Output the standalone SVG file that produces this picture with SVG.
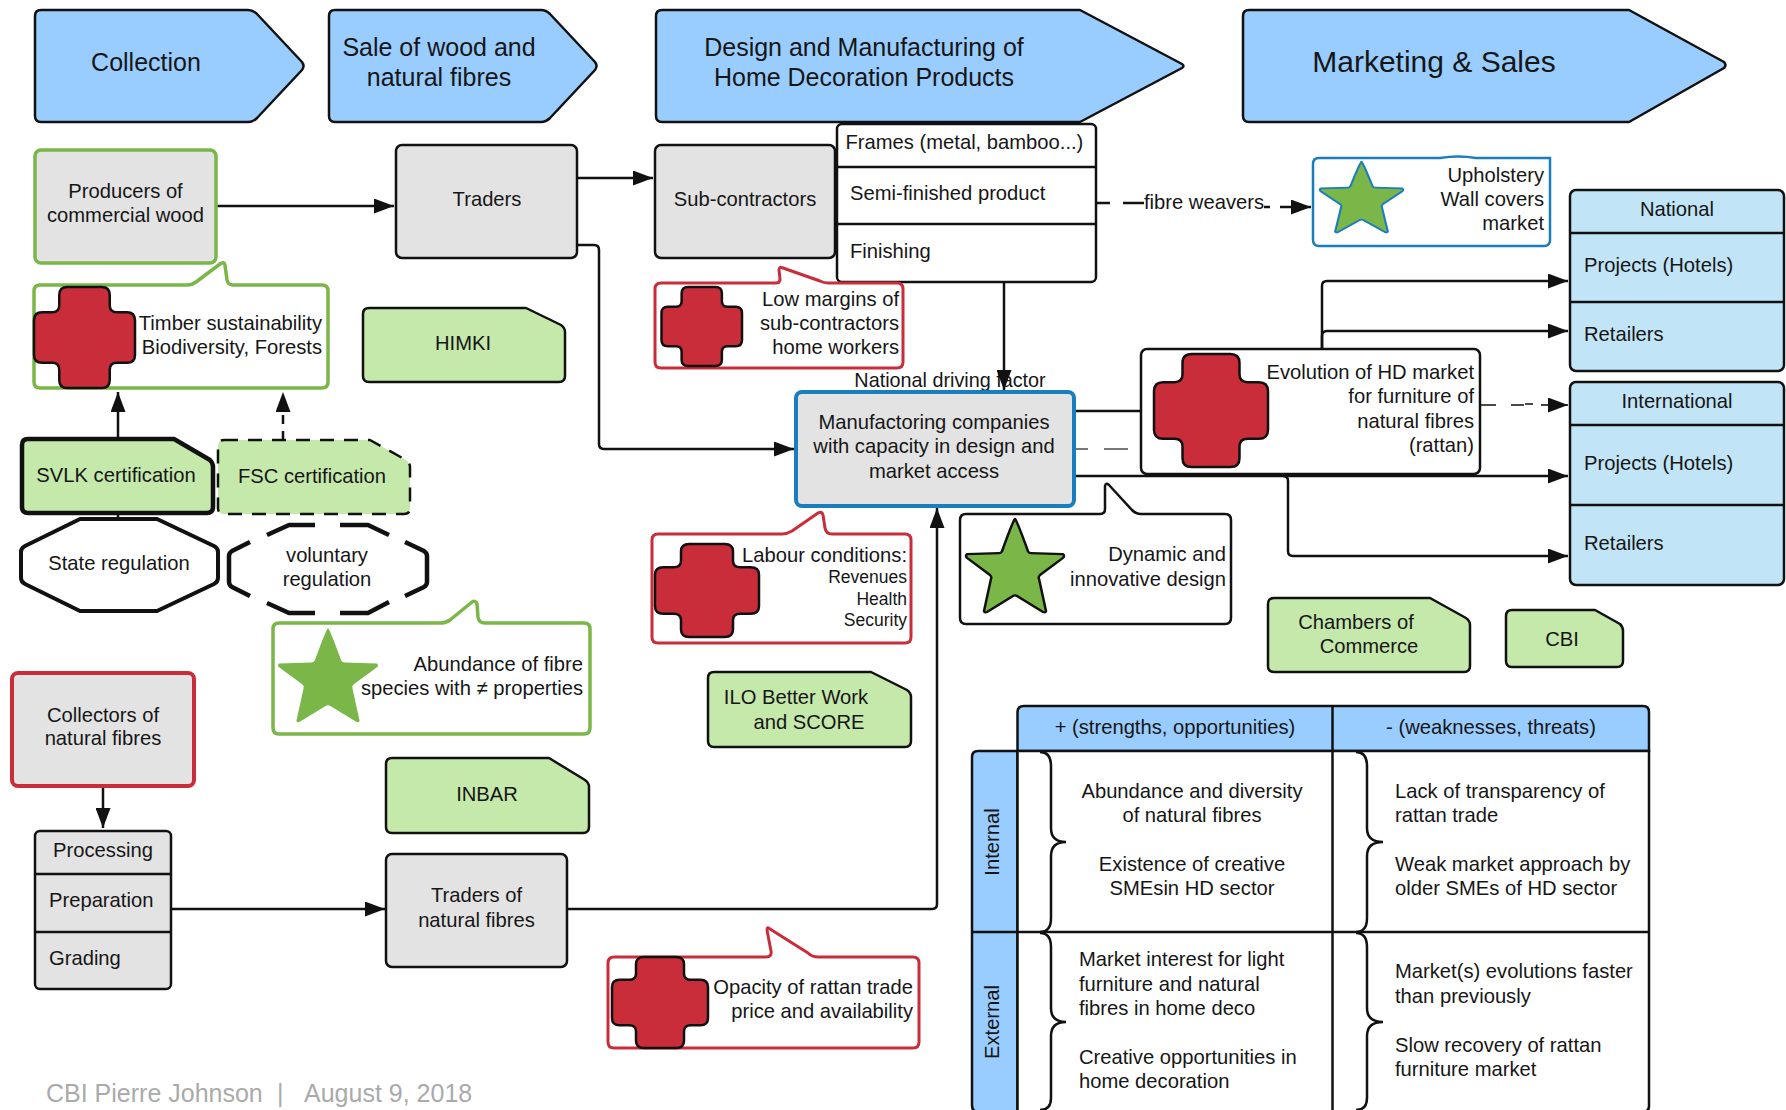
<svg xmlns="http://www.w3.org/2000/svg" width="1786" height="1110" viewBox="0 0 1786 1110">
<style>
text{font-family:"Liberation Sans",Arial,sans-serif;font-size:20.2px;fill:#161616}
.m{text-anchor:middle}.e{text-anchor:end}
.h{font-size:25px}
.s{font-size:17.5px}
.chev{fill:#99ccff;stroke:#111;stroke-width:2.5;stroke-linejoin:round}
.grey{fill:#e3e3e3;stroke:#111;stroke-width:2.5}
.note{fill:#c5e8ab;stroke:#111;stroke-width:2.5;stroke-linejoin:round}
.white{fill:#fff;stroke:#111;stroke-width:2.5;stroke-linejoin:round}
.gc{fill:#fff;stroke:#7ab648;stroke-width:3.5;stroke-linejoin:round}
.rc{fill:#fff;stroke:#c92d39;stroke-width:3;stroke-linejoin:round}
.pale{fill:#c1e4f7;stroke:#111;stroke-width:2.5}
.div{stroke:#111;stroke-width:2.5;fill:none}
.c{fill:none;stroke:#111;stroke-width:2.5;stroke-linejoin:round}
.a{marker-end:url(#ah)}
.cross{fill:#c92d39;stroke:#111;stroke-width:2.5;vector-effect:non-scaling-stroke;stroke-linejoin:round}
.star{fill:#7ab648;stroke-linejoin:round;vector-effect:non-scaling-stroke}
</style>
<defs>
<marker id="ah" markerUnits="userSpaceOnUse" markerWidth="21" markerHeight="15" refX="20" refY="7.5" orient="auto"><path d="M0,0L20,7.5L0,15Z" fill="#111"/></marker>
<path id="cross" class="cross" d="M33,0H67Q75,0 75,8V18Q75,25 82,25H92Q100,25 100,33V67Q100,75 92,75H82Q75,75 75,82V92Q75,100 67,100H33Q25,100 25,92V82Q25,75 18,75H8Q0,75 0,67V33Q0,25 8,25H18Q25,25 25,18V8Q25,0 33,0Z"/>
<path id="starp" d="M50,1Q52,3 63,35Q64,37 66,37L98,38Q100,40 98,42L75,60Q73,62 74,64L81,98Q80,100 78,99L52,82Q50,81 48,82L22,99Q20,100 19,98L26,64Q27,62 25,60L2,42Q0,40 2,38L34,37Q36,37 37,35Q48,3 50,1Z"/>
</defs>

<g id="nationaldriving"><text class="m" x="950" y="387" style="font-size:19.8px">National driving factor</text></g>

<g id="connectors">
<path class="c a" d="M216,206H394"/>
<path class="c a" d="M577,178H653"/>
<path class="c a" d="M577,245H594Q599,245 599,250V444Q599,449 604,449H794"/>
<path class="c a" d="M1004,282V390"/>
<path class="c" d="M1096,203H1110M1123,203H1144"/>
<path class="c" d="M1264,207H1270"/>
<path class="c a" d="M1280,207H1311"/>
<path class="c" d="M1074,411H1141"/>
<path d="M1076,449H1088M1104,449H1128" fill="none" stroke="#777" stroke-width="2"/>
<path class="c a" d="M1074,476H1568"/>
<path class="c a" d="M1283,476Q1288,476 1288,481V551Q1288,556 1293,556H1568"/>
<path class="c a" d="M1322,348V286Q1322,281 1327,281H1568"/>
<path class="c a" d="M1322,348V336Q1322,331 1327,331H1568"/>
<path class="c" style="stroke-width:1.6" d="M1480,405H1496M1511,405H1524M1525,404H1533"/>
<path class="c a" style="stroke-width:1.6" d="M1541,405H1568"/>
<path class="c a" d="M118,438V392"/>
<path class="c" d="M118,513V518"/>
<path class="c a" stroke-dasharray="9 7" d="M283,440V392"/>
<path class="c a" d="M103,785V828"/>
<path class="c a" d="M171,909H385"/>
<path class="c a" d="M567,909H932Q937,909 937,904V508"/>
</g>

<g id="collection"><path class="chev" d="M41,10H248Q253,10 257,14L302,62Q305,66 302,70L257,118Q253,122 248,122H41Q35,122 35,116V16Q35,10 41,10Z"/><text class="m h" x="146" y="71">Collection</text></g>
<g id="sale"><path class="chev" d="M335,10H541Q546,10 550,14L595,62Q598,66 595,70L550,118Q546,122 541,122H335Q329,122 329,116V16Q329,10 335,10Z"/><text class="m h" x="439" y="56">Sale of wood and</text><text class="m h" x="439" y="86">natural fibres</text></g>
<g id="design"><path class="chev" d="M662,10H1080L1182,64Q1185,66 1182,68L1080,122H662Q656,122 656,116V16Q656,10 662,10Z"/><text class="m h" x="864" y="56">Design and Manufacturing of</text><text class="m h" x="864" y="86">Home Decoration Products</text></g>
<g id="marketing"><path class="chev" d="M1249,10H1629L1724,62Q1727,65 1724,68L1629,122H1249Q1243,122 1243,116V16Q1243,10 1249,10Z"/><text class="m" style="font-size:30px" x="1434" y="72">Marketing &amp; Sales</text></g>

<g id="producers"><rect x="35" y="150" width="181" height="113" rx="6" fill="#e3e3e3" stroke="#7ab648" stroke-width="3.5"/><text class="m" x="125.500" y="198">Producers of</text><text class="m" x="125.500" y="222">commercial wood</text></g>
<g id="traders"><rect class="grey" x="396" y="145" width="181" height="113" rx="6"/><text class="m" x="487" y="206">Traders</text></g>
<g id="subcontractors"><rect class="grey" x="655" y="145" width="180" height="113" rx="6"/><text class="m" x="745" y="206">Sub-contractors</text></g>
<g id="steps"><rect class="white" x="837" y="124" width="259" height="158" rx="5"/><path class="div" d="M837,167H1096M837,224H1096"/><text x="845.500" y="149">Frames (metal, bamboo...)</text><text x="850" y="200">Semi-finished product</text><text x="850" y="258">Finishing</text></g>

<g id="timber"><path class="gc" d="M40,285H188Q192,285 196,282L220,264Q224,261 225,265L227,280Q228,285 233,285H322Q328,285 328,291V382Q328,388 322,388H40Q34,388 34,382V291Q34,285 40,285Z"/><use href="#cross" transform="translate(34,287) scale(1.01,1.01)"/><text class="e" x="322" y="330">Timber sustainability</text><text class="e" x="322" y="354">Biodiversity, Forests</text></g>
<g id="himki"><path class="note" d="M369,308H526L561,325Q565,328 565,332V376Q565,382 559,382H369Q363,382 363,376V314Q363,308 369,308Z"/><text class="m" x="463" y="350">HIMKI</text></g>
<g id="lowmargins"><path class="rc" d="M661,283H776Q780,283 780,279L779,270Q779,266 783,268L820,281Q824,283 828,283H897Q903,283 903,289V362Q903,368 897,368H661Q655,368 655,362V289Q655,283 661,283Z"/><use href="#cross" transform="translate(661.500,287) scale(.805,.79)"/><text class="e" x="899" y="306">Low margins of</text><text class="e" x="899" y="330">sub-contractors</text><text class="e" x="899" y="354">home workers</text></g>

<g id="upholstery"><path d="M1319,158H1440Q1458,155 1476,158H1550V240Q1550,246 1544,246H1319Q1313,246 1313,240V164Q1313,158 1319,158Z" fill="#fff" stroke="#1a7dbd" stroke-width="2.5"/><use href="#starp" class="star" stroke="#1a7dbd" stroke-width="2.500" transform="translate(1319,161) scale(.85,.72)"/><text class="e" x="1544" y="182">Upholstery</text><text class="e" x="1544" y="206">Wall covers</text><text class="e" x="1544" y="230">market</text></g>
<g id="fibreweavers"><text class="m" x="1204" y="209">fibre weavers</text></g>

<g id="national"><rect class="pale" x="1570" y="190" width="214" height="181" rx="6"/><path class="div" d="M1570,233H1784M1570,302H1784"/><text class="m" x="1677" y="216">National</text><text x="1584" y="272">Projects (Hotels)</text><text x="1584" y="341">Retailers</text></g>
<g id="international"><rect class="pale" x="1570" y="382" width="214" height="203" rx="6"/><path class="div" d="M1570,425H1784M1570,505H1784"/><text class="m" x="1677" y="408">International</text><text x="1584" y="470">Projects (Hotels)</text><text x="1584" y="550">Retailers</text></g>

<g id="evolution"><rect class="white" x="1141" y="349" width="339" height="125" rx="6"/><use href="#cross" transform="translate(1154,354) scale(1.14,1.13)"/><text class="e" x="1474" y="379">Evolution of HD market</text><text class="e" x="1474" y="403">for furniture of</text><text class="e" x="1474" y="428">natural fibres</text><text class="e" x="1474" y="452">(rattan)</text></g>
<g id="manufacturing"><rect x="796" y="392" width="278" height="114" rx="6" fill="#e3e3e3" stroke="#1a7dbd" stroke-width="4"/><text class="m" x="934" y="429">Manufactoring companies</text><text class="m" x="934" y="453">with capacity in design and</text><text class="m" x="934" y="478">market access</text></g>

<g id="dynamic"><path class="white" d="M966,514H1100Q1105,514 1105,509L1105,486Q1106,482 1109,485L1132,510Q1136,514 1141,514H1225Q1231,514 1231,520V618Q1231,624 1225,624H966Q960,624 960,618V520Q960,514 966,514Z"/><use href="#starp" class="star" stroke="#111" stroke-width="2.500" transform="translate(965,518) scale(1,.95)"/><text class="e" x="1226" y="561">Dynamic and</text><text class="e" x="1226" y="586">innovative design</text></g>

<g id="svlk"><path class="note" style="stroke-width:4.500" d="M28,439H174L210,460Q213,463 213,467V507Q213,513 207,513H28Q22,513 22,507V445Q22,439 28,439Z"/><text class="m" x="116" y="482">SVLK certification</text></g>
<g id="fsc"><path class="note" stroke-dasharray="14 10" d="M224,440H370L406,460Q410,463 410,467V508Q410,514 404,514H224Q218,514 218,508V446Q218,440 224,440Z"/><text class="m" x="312" y="483">FSC certification</text></g>
<g id="state"><path fill="#fff" stroke="#111" stroke-width="4" stroke-linejoin="round" d="M80,519H157L214,546Q218,548 218,552V578Q218,582 214,584L157,611H80L25,584Q21,582 21,578V552Q21,548 25,546Z"/><text class="m" x="119" y="570">State regulation</text></g>
<g id="voluntary"><path fill="none" stroke="#111" stroke-width="4.500" stroke-linejoin="round" d="M267,535L289,525H315M340,525H368L389,535M405,542L424,551Q427,553 427,556V582Q427,585 424,587L405,596M389,602L368,613H340M315,613H289L267,603M250,596L232,587Q229,585 229,582V556Q229,553 232,551L250,542"/><text class="m" x="327" y="562">voluntary</text><text class="m" x="327" y="586">regulation</text></g>

<g id="abundance"><path class="gc" d="M279,623H440Q446,623 450,620L472,602Q476,600 477,604L478,617Q479,623 485,623H584Q590,623 590,629V728Q590,734 584,734H279Q273,734 273,728V629Q273,623 279,623Z"/><use href="#starp" fill="#7ab648" transform="translate(277,627) scale(1.02,.96)"/><text class="e" x="583" y="671">Abundance of fibre</text><text class="e" x="583" y="695">species with ≠ properties</text></g>

<g id="labour"><path class="rc" d="M658,534H782Q787,534 792,531L818,513Q822,511 823,515L825,528Q826,534 832,534H905Q911,534 911,540V637Q911,643 905,643H658Q652,643 652,637V540Q652,534 658,534Z"/><use href="#cross" transform="translate(655,544) scale(1.04,.93)"/><text class="e" x="907" y="562">Labour conditions:</text><text class="e s" x="907" y="583">Revenues</text><text class="e s" x="907" y="605">Health</text><text class="e s" x="907" y="626">Security</text></g>

<g id="chambers"><path class="note" d="M1274,598H1430L1466,618Q1470,621 1470,625V666Q1470,672 1464,672H1274Q1268,672 1268,666V604Q1268,598 1274,598Z"/><text class="m" x="1356" y="629">Chambers of</text><text class="m" x="1369" y="653">Commerce</text></g>
<g id="cbi"><path class="note" d="M1512,610H1595L1620,624Q1623,627 1623,631V661Q1623,667 1617,667H1512Q1506,667 1506,661V616Q1506,610 1512,610Z"/><text class="m" x="1562" y="646">CBI</text></g>
<g id="ilo"><path class="note" d="M714,672H871L907,690Q911,693 911,697V741Q911,747 905,747H714Q708,747 708,741V678Q708,672 714,672Z"/><text class="m" x="796" y="704">ILO Better Work</text><text class="m" x="809" y="729">and SCORE</text></g>
<g id="inbar"><path class="note" d="M392,758H549L585,780Q589,783 589,787V827Q589,833 583,833H392Q386,833 386,827V764Q386,758 392,758Z"/><text class="m" x="487" y="801">INBAR</text></g>

<g id="collectors"><rect x="12" y="673" width="182" height="113" rx="6" fill="#e3e3e3" stroke="#c92d39" stroke-width="4"/><text class="m" x="103" y="722">Collectors of</text><text class="m" x="103" y="745">natural fibres</text></g>
<g id="processing"><rect class="grey" x="35" y="831" width="136" height="158" rx="5"/><path class="div" d="M35,874H171M35,932H171"/><text class="m" x="103" y="857">Processing</text><text x="49" y="907">Preparation</text><text x="49" y="965">Grading</text></g>
<g id="tradersfibres"><rect class="grey" x="386" y="854" width="181" height="113" rx="6"/><text class="m" x="476.500" y="902">Traders of</text><text class="m" x="476.500" y="927">natural fibres</text></g>
<g id="opacity"><path class="rc" d="M614,957H766Q772,957 771,951L767,930Q767,926 770,929L808,953Q812,957 818,957H913Q919,957 919,963V1042Q919,1048 913,1048H614Q608,1048 608,1042V963Q608,957 614,957Z"/><use href="#cross" transform="translate(612,957) scale(.96,.91)"/><text class="e" x="913" y="994">Opacity of rattan trade</text><text class="e" x="913" y="1018">price and availability</text></g>

<g id="swot">
<path d="M1017.500,751V712Q1017.500,706 1024,706H1643Q1649,706 1649,712V751Z" fill="#99ccff" stroke="#111" stroke-width="2.500"/>
<path d="M1017.500,751H978Q972,751 972,757V1105Q972,1112 978,1112H1017.500Z" fill="#99ccff" stroke="#111" stroke-width="2.500"/>
<path class="white" d="M1017.500,751H1649V1106Q1649,1112 1643,1112H1017.500Z"/>
<path class="div" d="M1332.500,706V1112M1017.500,932H1649M972,932H1017.500"/>
<path class="div" d="M1040,752Q1051,752 1051,766V828Q1051,842 1066,842Q1051,842 1051,856V918Q1051,932 1040,932"/>
<path class="div" d="M1356,752Q1367,752 1367,766V828Q1367,842 1383,842Q1367,842 1367,856V918Q1367,932 1356,932"/>
<path class="div" d="M1040,933Q1051,933 1051,947V1008Q1051,1022 1066,1022Q1051,1022 1051,1036V1098Q1051,1110 1040,1110"/>
<path class="div" d="M1356,933Q1367,933 1367,947V1008Q1367,1022 1383,1022Q1367,1022 1367,1036V1098Q1367,1110 1356,1110"/>
<text class="m" x="1175" y="734">+ (strengths, opportunities)</text>
<text class="m" x="1491" y="734">- (weaknesses, threats)</text>
<text class="m" transform="translate(999,842) rotate(-90)">Internal</text>
<text class="m" transform="translate(999,1022) rotate(-90)">External</text>
<text class="m" x="1192" y="798">Abundance and diversity</text><text class="m" x="1192" y="822">of natural fibres</text><text class="m" x="1192" y="871">Existence of creative</text><text class="m" x="1192" y="895">SMEsin HD sector</text>
<text x="1395" y="798">Lack of transparency of</text><text x="1395" y="822">rattan trade</text><text x="1395" y="871">Weak market approach by</text><text x="1395" y="895">older SMEs of HD sector</text>
<text x="1079" y="966">Market interest for light</text><text x="1079" y="991">furniture and natural</text><text x="1079" y="1015">fibres in home deco</text><text x="1079" y="1064">Creative opportunities in</text><text x="1079" y="1088">home decoration</text>
<text x="1395" y="978">Market(s) evolutions faster</text><text x="1395" y="1003">than previously</text><text x="1395" y="1052">Slow recovery of rattan</text><text x="1395" y="1076">furniture market</text>
</g>
<g id="footer"><text x="46" y="1102" style="font-size:25px;fill:#aaa">CBI Pierre Johnson</text><text x="277" y="1102" style="font-size:25px;fill:#aaa">|</text><text x="304" y="1102" style="font-size:25px;fill:#aaa">August 9, 2018</text></g>
</svg>
